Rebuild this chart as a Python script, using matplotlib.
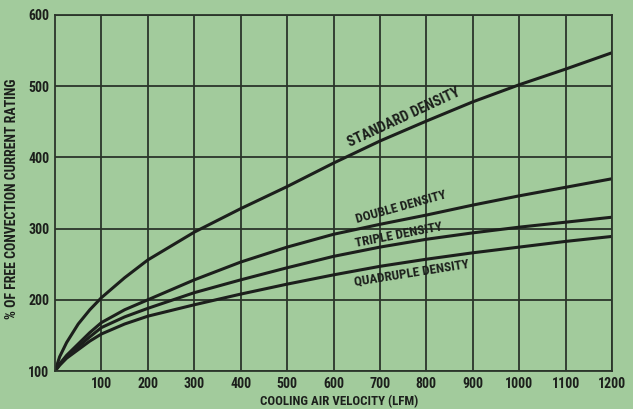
#!/usr/bin/env python
import numpy as np
import matplotlib
matplotlib.use('Agg')
import matplotlib.pyplot as plt

# cooling air velocity (LFM)
x = np.array([0, 10, 25, 50, 75, 100, 150, 200, 300, 400, 500, 600, 700, 800, 900, 1000, 1100, 1200])
# % of free convection current rating
standard = np.array([100, 120, 140, 166, 186, 203, 231, 256, 295, 328, 359, 392, 423, 451, 478, 502, 524, 547])
double = np.array([100, 110, 122, 138, 154, 168, 186, 200, 228, 253, 274, 292, 306, 319, 333, 346, 358, 370])
triple = np.array([100, 109, 120, 134, 148, 161, 176, 188, 210, 228, 245, 261, 274, 285, 294, 302, 309, 316])
quadruple = np.array([100, 108, 118, 130, 142, 152, 166, 177, 193, 208, 222, 235, 247, 257, 266, 274, 282, 289])

labels = ['STANDARD DENSITY', 'DOUBLE DENSITY', 'TRIPLE DENSITY', 'QUADRUPLE DENSITY']
label_pos = [(752, 456, 25, 10.5), (746, 330, 15.5, 9.5), (741, 291, 11, 9.5), (768, 238, 9, 9.5)]

bg = '#a2cb9c'
ink = '#1c1f1c'
font = ['Roboto Condensed', 'Archivo Narrow', 'DejaVu Sans']

fig = plt.figure(figsize=(6.33, 4.09), dpi=100, facecolor=bg)
ax = fig.add_axes([0.0869, 0.0929, 0.88, 0.8705])
ax.set_facecolor(bg)

for y in [standard, double, triple, quadruple]:
    ax.plot(x, y, color=ink, lw=2.2, solid_capstyle='round')

for (tx, ty, rot, fs), s in zip(label_pos, labels):
    ax.text(tx, ty, s, rotation=rot, ha='center', va='center', fontsize=fs,
            family=font, fontweight='bold', color=ink)

ax.set_xlim(0, 1200)
ax.set_ylim(100, 600)
ax.set_xticks(np.arange(100, 1201, 100))
ax.set_yticks(np.arange(100, 601, 100))
ax.grid(True, color='#2b352b', lw=1.3)
ax.set_axisbelow(True)
for sp in ax.spines.values():
    sp.set_color('#2b352b')
    sp.set_linewidth(1.3)
ax.tick_params(length=0, pad=4, colors=ink, labelsize=10)
for t in ax.get_xticklabels() + ax.get_yticklabels():
    t.set_family(font)
    t.set_fontweight('bold')

ax.set_xlabel('COOLING AIR VELOCITY (LFM)', family=font, fontweight='bold',
              fontsize=9.3, color=ink, va='center')
ax.set_ylabel('% OF FREE CONVECTION CURRENT RATING', family=font, fontweight='bold',
              fontsize=10, color=ink, va='center')
ax.xaxis.set_label_coords(0.51, -0.085)
ax.yaxis.set_label_coords(-0.077, 0.483)

fig.savefig('out.png', dpi=100, facecolor=bg)
